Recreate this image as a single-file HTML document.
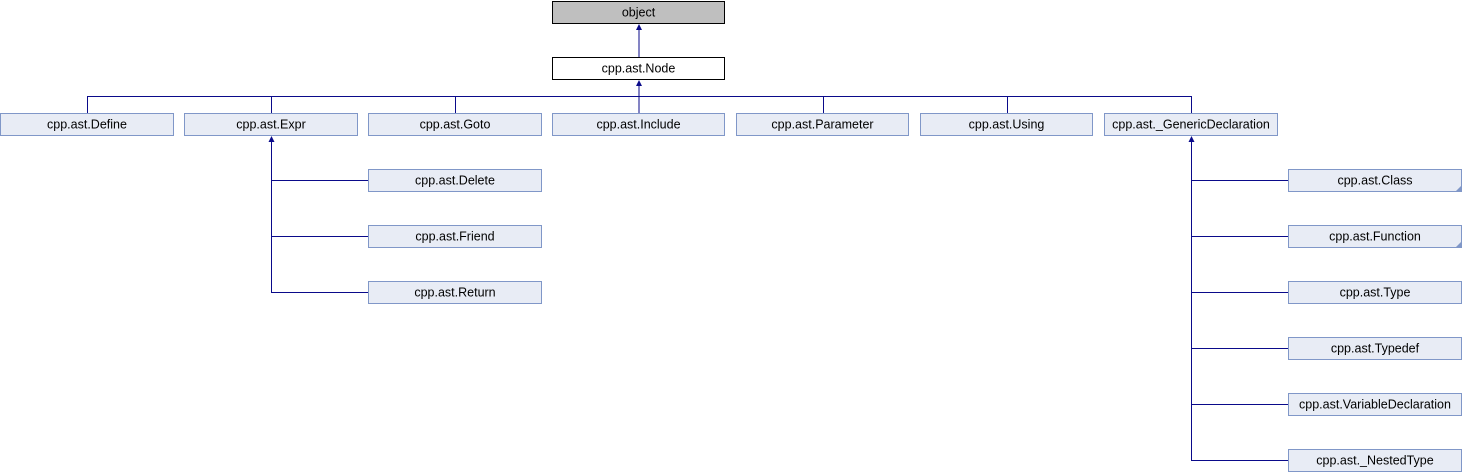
<!DOCTYPE html>
<html><head><style>body{margin:0;background:#fff}svg{display:block}</style></head><body>
<svg width="1462" height="472" xmlns="http://www.w3.org/2000/svg" font-family="Liberation Sans, sans-serif" font-size="12.5">
<g stroke="#0a0a8a" fill="none" stroke-width="1">
<line x1="639" y1="28" x2="639" y2="57"/>
<line x1="639" y1="85" x2="639" y2="113"/>
<line x1="87.5" y1="96.5" x2="1191.5" y2="96.5"/>
<line x1="87.5" y1="96" x2="87.5" y2="113"/>
<line x1="271.5" y1="96" x2="271.5" y2="113"/>
<line x1="455.5" y1="96" x2="455.5" y2="113"/>
<line x1="823.5" y1="96" x2="823.5" y2="113"/>
<line x1="1007.5" y1="96" x2="1007.5" y2="113"/>
<line x1="1191.5" y1="96" x2="1191.5" y2="113"/>
<line x1="271.5" y1="141" x2="271.5" y2="292.5"/>
<line x1="271" y1="180.5" x2="368" y2="180.5"/>
<line x1="271" y1="236.5" x2="368" y2="236.5"/>
<line x1="271" y1="292.5" x2="368" y2="292.5"/>
<line x1="1191.5" y1="141" x2="1191.5" y2="460.5"/>
<line x1="1191" y1="180.5" x2="1288" y2="180.5"/>
<line x1="1191" y1="236.5" x2="1288" y2="236.5"/>
<line x1="1191" y1="292.5" x2="1288" y2="292.5"/>
<line x1="1191" y1="348.5" x2="1288" y2="348.5"/>
<line x1="1191" y1="404.5" x2="1288" y2="404.5"/>
<line x1="1191" y1="460.5" x2="1288" y2="460.5"/>
</g>
<g fill="#0a0a8a">
<polygon points="639,24 636,30 642,30"/>
<polygon points="639,80 636,86 642,86"/>
<polygon points="271.5,136 268.5,142 274.5,142"/>
<polygon points="1191.5,136 1188.5,142 1194.5,142"/>
</g>
<rect x="552.5" y="1.5" width="172" height="22" fill="#bfbfbf" stroke="#000"/>
<text x="638.5" y="16.5" text-anchor="middle">object</text>
<rect x="552.5" y="57.5" width="172" height="22" fill="#fff" stroke="#000"/>
<text x="638.5" y="72.5" text-anchor="middle">cpp.ast.Node</text>
<g fill="#e8ecf5" stroke="#8097c8">
<rect x="0.5" y="113.5" width="173" height="22"/>
<rect x="184.5" y="113.5" width="173" height="22"/>
<rect x="368.5" y="113.5" width="173" height="22"/>
<rect x="552.5" y="113.5" width="172" height="22"/>
<rect x="736.5" y="113.5" width="172" height="22"/>
<rect x="920.5" y="113.5" width="172" height="22"/>
<rect x="1104.5" y="113.5" width="173" height="22"/>
<rect x="368.5" y="169.5" width="173" height="22"/>
<rect x="368.5" y="225.5" width="173" height="22"/>
<rect x="368.5" y="281.5" width="173" height="22"/>
<rect x="1288.5" y="169.5" width="173" height="22"/>
<rect x="1288.5" y="225.5" width="173" height="22"/>
<rect x="1288.5" y="281.5" width="173" height="22"/>
<rect x="1288.5" y="337.5" width="173" height="22"/>
<rect x="1288.5" y="393.5" width="173" height="22"/>
<rect x="1288.5" y="449.5" width="173" height="22"/>
</g>
<g fill="#8097c8">
<polygon points="1461,186 1461,191 1456,191"/>
<polygon points="1461,242 1461,247 1456,247"/>
</g>
<g text-anchor="middle" fill="#000">
<text x="87" y="128.5">cpp.ast.Define</text>
<text x="271" y="128.5">cpp.ast.Expr</text>
<text x="455" y="128.5">cpp.ast.Goto</text>
<text x="638.5" y="128.5">cpp.ast.Include</text>
<text x="822.5" y="128.5">cpp.ast.Parameter</text>
<text x="1006.5" y="128.5">cpp.ast.Using</text>
<text x="1191" y="128.5">cpp.ast._GenericDeclaration</text>
<text x="455" y="184.5">cpp.ast.Delete</text>
<text x="455" y="240.5">cpp.ast.Friend</text>
<text x="455" y="296.5">cpp.ast.Return</text>
<text x="1375" y="184.5">cpp.ast.Class</text>
<text x="1375" y="240.5">cpp.ast.Function</text>
<text x="1375" y="296.5">cpp.ast.Type</text>
<text x="1375" y="352.5">cpp.ast.Typedef</text>
<text x="1375" y="408.5">cpp.ast.VariableDeclaration</text>
<text x="1375" y="464.5">cpp.ast._NestedType</text>
</g>
</svg>
</body></html>
